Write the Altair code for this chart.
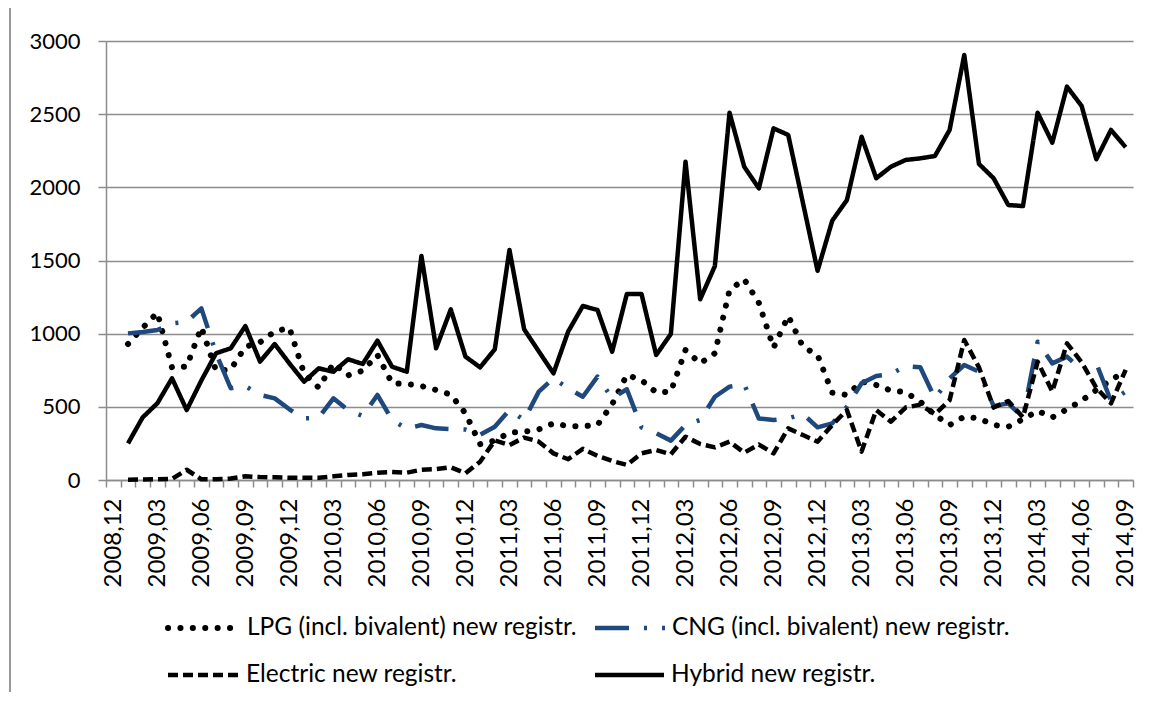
import altair as alt
import pandas as pd

# ---- categories (monthly, 2008,12 .. 2014,09) ----
months = []
y, m = 2008, 12
for _ in range(70):
    months.append(f"{y},{m:02d}")
    m += 1
    if m > 12:
        m = 1
        y += 1

tick_labels = ["2008,12", "2009,03", "2009,06", "2009,09", "2009,12", "2010,03",
               "2010,06", "2010,09", "2010,12", "2011,03", "2011,06", "2011,09",
               "2011,12", "2012,03", "2012,06", "2012,09", "2012,12", "2013,03",
               "2013,06", "2013,09", "2013,12", "2014,03", "2014,06", "2014,09"]

series_names = ["LPG (incl. bivalent) new registr.",
                "CNG (incl. bivalent) new registr.",
                "Electric new registr.",
                "Hybrid new registr."]

lpg = [None, 929, 1040, 1143, 768, 775, 1044, 747, 755, 911, 941, 1015, 1040, 729, 631,
       797, 715, 747, 854, 661, 656, 642, 615, 583, 456, 245, 269, 323, 330, 346, 387,
       369, 367, 376, 517, 718, 683, 599, 604, 888, 797, 866, 1298, 1372, 1210, 904,
       1121, 911, 854, 597, 581, 672, 649, 611, 600, 535, 444, 376, 433, 421, 376, 364,
       415, 472, 428, 483, 542, 615, 683, 745]

cng = [None, 1002, 1012, 1025, 1070, 1082, 1173, 866, 627, 642, 581, 558, 483, 421, 426,
       558, 478, 437, 581, 410, 350, 376, 353, 348, 345, 310, 364, 478, 410, 604, 695,
       627, 569, 706, 558, 620, 360, 319, 269, 376, 410, 569, 638, 654, 420, 410, 421,
       451, 360, 387, 501, 661, 711, 724, 779, 770, 558, 695, 786, 740, 505, 524, 428,
       945, 797, 843, 752, 797, 540, 604]

electric = [None, 2, 3, 5, 8, 70, 5, 5, 10, 25, 20, 18, 15, 15, 15, 25, 35, 40, 50, 55,
            50, 70, 75, 87, 46, 125, 270, 239, 290, 262, 182, 142, 213, 165, 130, 103,
            182, 205, 176, 296, 246, 223, 262, 187, 242, 182, 353, 307, 262, 376, 478,
            194, 478, 399, 495, 515, 450, 545, 957, 770, 495, 540, 428, 809, 604, 934,
            805, 630, 524, 752]

hybrid = [None, 250, 428, 524, 695, 478, 680, 866, 900, 1052, 809, 929, 797, 672, 763,
          740, 825, 793, 952, 774, 740, 1531, 900, 1166, 843, 770, 893, 1572, 1030, 879,
          729, 1014, 1189, 1162, 877, 1271, 1271, 854, 998, 2175, 1235, 1462, 2510, 2141,
          1993, 2403, 2358, 1895, 1430, 1772, 1913, 2346, 2062, 2141, 2187, 2198, 2214,
          2392, 2904, 2160, 2062, 1879, 1872, 2510, 2305, 2688, 2556, 2192, 2392, 2274]

y_ticks = [0, 500, 1000, 1500, 2000, 2500, 3000]

W, H = 1027, 439
GRID = "#8c8c8c"
FONT = "Lato"

df = pd.DataFrame({"idx": list(range(70)), "month": months,
                   "lpg": lpg, "cng": cng, "electric": electric, "hybrid": hybrid})

tick_values = [i - 0.5 for i in range(71)] + [i * 3 for i in range(24)]
label_arr = "[" + ",".join(f"'{t}'" for t in tick_labels) + "]"
label_expr = f"(datum.value % 3 === 0) ? {label_arr}[datum.value / 3] : ''"

x_scale = alt.Scale(domain=[-0.5, 69.5], nice=False, zero=False)
y_scale = alt.Scale(domain=[0, 3000], nice=False)

x_axis = alt.Axis(
    values=tick_values, labelExpr=label_expr, labelAngle=270,
    labelAlign="right", labelBaseline="middle",
    labelFont=FONT, labelFontSize=24, labelColor="black", labelPadding=11,
    labelOverlap=False, labelFlush=False,
    tickSize=7, tickColor=GRID, tickWidth=1.5,
    tickOpacity={"condition": {"test": "datum.value % 1 === 0", "value": 0}, "value": 1},
    domainColor=GRID, domainWidth=1.5, grid=False, title=None,
)
y_axis = alt.Axis(
    values=y_ticks, format="d", labelFont=FONT, labelFontSize=22, labelColor="black",
    labelPadding=18, tickSize=8, tickColor=GRID, tickWidth=1.5,
    domainColor=GRID, domainWidth=1.5, grid=True, gridColor=GRID, gridWidth=1.5,
    title=None,
)

base = alt.Chart(df)


def series_layer(field, color, dash, cap, width=4.5):
    return base.mark_line(color=color, strokeWidth=width, strokeDash=dash,
                          strokeCap=cap, strokeJoin="round").encode(
        x=alt.X("idx:Q", scale=x_scale, axis=x_axis),
        y=alt.Y(f"{field}:Q", scale=y_scale, axis=y_axis),
    )


DOT = [0.1, 12.3]
DASHDOT = [34, 15, 3, 15]
DASH = [10, 5]
CNG_COLOR = "#1F497D"

lines = [
    series_layer("lpg", "black", DOT, "round", width=6),
    series_layer("cng", CNG_COLOR, DASHDOT, "butt"),
    series_layer("electric", "black", DASH, "butt"),
    series_layer("hybrid", "black", [1, 0], "butt"),
]

# ---- custom legend (positions in plot pixels) ----
legend_spec = [
    (series_names[0], "black", DOT, "round", 6, 62, 134, 587),
    (series_names[1], CNG_COLOR, DASHDOT, "butt", 4.5, 489, 559, 587),
    (series_names[2], "black", DASH, "butt", 4.5, 62, 133, 634),
    (series_names[3], "black", [1, 0], "butt", 4.5, 489, 558, 634),
]
legend_layers = []
for name, color, dash, cap, sw, x0, x1, ly in legend_spec:
    ld = alt.Chart(pd.DataFrame({"name": [name]}))
    legend_layers.append(
        ld.mark_rule(color=color, strokeWidth=sw, strokeDash=dash, strokeCap=cap).encode(
            x=alt.value(x0), x2=alt.value(x1), y=alt.value(ly)))
    legend_layers.append(
        ld.mark_text(align="left", baseline="middle", font=FONT, fontSize=24.5,
                     color="black").encode(
            x=alt.value(x1 + 7), y=alt.value(ly), text="name:N"))

border = alt.Chart(pd.DataFrame({"a": [0]})).mark_rule(color="#999999", strokeWidth=2).encode(
    x=alt.value(-96), y=alt.value(-41), y2=alt.value(660))

chart = alt.layer(*lines, *legend_layers, border).properties(
    width=W, height=H,
    autosize=alt.AutoSizeParams(type="none"),
    padding={"left": 98, "top": 33, "right": 12, "bottom": 212},
    background="white",
).configure_view(stroke=None)

chart.save("out.html", embed_options={"renderer": "svg", "actions": False})
